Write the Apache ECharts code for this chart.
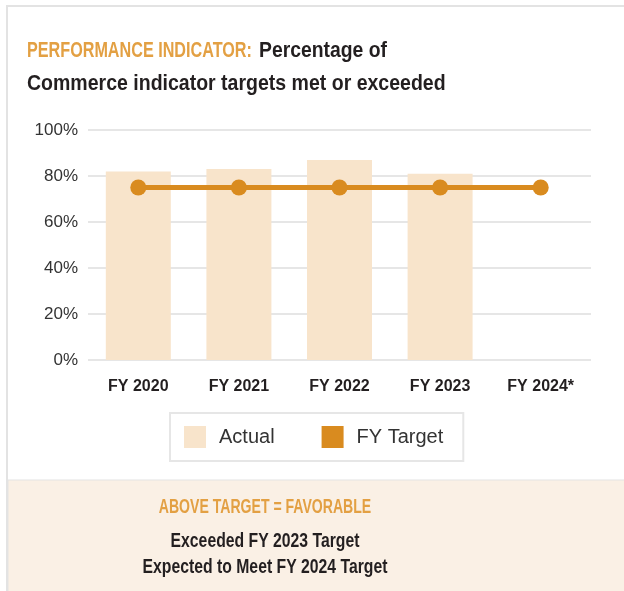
<!DOCTYPE html>
<html>
<head>
<meta charset="utf-8">
<script src="https://cdn.jsdelivr.net/npm/echarts@6/dist/echarts.min.js"></script>
<style>
  html, body { margin: 0; padding: 0; background: #fff; }
  #chart { width: 624px; height: 591px; }
</style>
</head>
<body>
<div id="chart"></div>
<script>
// Fiscal years on the category axis
const years = ['FY 2020', 'FY 2021', 'FY 2022', 'FY 2023', 'FY 2024*'];
// Share of indicator targets met or exceeded (%)
const actual = [82, 83, 87, 81, null];
// Annual target (%)
const target = [75, 75, 75, 75, 75];
// Value axis ticks (%)
const yTicks = [0, 20, 40, 60, 80, 100];

const ORANGE_TEXT = '#E3A043';
const ORANGE_LINE = '#D98B1F';
const BAR_FILL = '#F8E4CB';
const INK = '#231F20';
const SANS = '"Liberation Sans", Arial, sans-serif';

// Condensed headline text: regular sans squeezed horizontally
function squeezed(text, x, y, size, color, sx, align) {
  return {
    type: 'text',
    x: x, y: y,
    scaleX: sx,
    silent: true,
    style: {
      text: text,
      fill: color,
      font: 'bold ' + size + 'px ' + SANS,
      textAlign: align || 'left',
      textVerticalAlign: 'middle'
    }
  };
}

const chart = echarts.init(document.getElementById('chart'), null, { renderer: 'canvas' });

chart.setOption({
  backgroundColor: '#ffffff',
  animation: false,
  legend: {
    data: ['Actual', 'FY Target'],
    left: 170,
    top: 413,
    orient: 'horizontal',
    icon: 'rect',
    itemWidth: 22,
    itemHeight: 22,
    itemGap: 47,
    padding: [13, 20, 13, 14],
    borderColor: '#e6e6e6',
    borderWidth: 2,
    selectedMode: false,
    textStyle: {
      fontFamily: SANS,
      fontSize: 20,
      color: '#333333',
      padding: [0, 0, 0, 8]
    }
  },
  grid: {
    left: 88,
    right: 33,
    top: 130,
    bottom: 231
  },
  xAxis: {
    type: 'category',
    data: years,
    axisLine: { show: false },
    axisTick: { show: false },
    axisLabel: {
      margin: 19,
      fontFamily: SANS,
      fontSize: 16,
      fontWeight: 'bold',
      color: INK
    }
  },
  yAxis: {
    type: 'value',
    min: yTicks[0],
    max: yTicks[yTicks.length - 1],
    interval: yTicks[1] - yTicks[0],
    axisLine: { show: false },
    axisTick: { show: false },
    splitLine: { lineStyle: { color: '#e6e6e6', width: 2 } },
    axisLabel: {
      margin: 10,
      formatter: '{value}%',
      fontFamily: SANS,
      fontSize: 17,
      color: '#333333'
    }
  },
  series: [
    {
      name: 'Actual',
      type: 'bar',
      data: actual,
      barWidth: 65,
      itemStyle: { color: BAR_FILL },
      z: 2
    },
    {
      name: 'FY Target',
      type: 'line',
      data: target,
      symbol: 'circle',
      symbolSize: 16,
      lineStyle: { color: ORANGE_LINE, width: 5 },
      itemStyle: { color: ORANGE_LINE },
      z: 3
    }
  ],
  graphic: [
    // outer frame
    {
      type: 'rect',
      z: -10,
      shape: { x: 7, y: 6, width: 640, height: 620 },
      style: { fill: 'none', stroke: '#e3e3e3', lineWidth: 2 },
      silent: true
    },
    // footer panel
    {
      type: 'rect',
      z: -9,
      shape: { x: 8, y: 480, width: 620, height: 120 },
      style: { fill: '#FAF0E5', stroke: '#e3e3e3', lineWidth: 1 },
      silent: true
    },
    // headline
    squeezed('PERFORMANCE INDICATOR:', 27, 51, 22, ORANGE_TEXT, 0.735),
    squeezed('Percentage of', 259, 51, 22, INK, 0.88),
    squeezed('Commerce indicator targets met or exceeded', 27, 84, 22, INK, 0.887),
    // footer notes
    squeezed('ABOVE TARGET = FAVORABLE', 265, 507, 21, ORANGE_TEXT, 0.67, 'center'),
    squeezed('Exceeded FY 2023 Target', 265, 541, 21, INK, 0.75, 'center'),
    squeezed('Expected to Meet FY 2024 Target', 265, 567, 21, INK, 0.75, 'center')
  ]
});
</script>
</body>
</html>
